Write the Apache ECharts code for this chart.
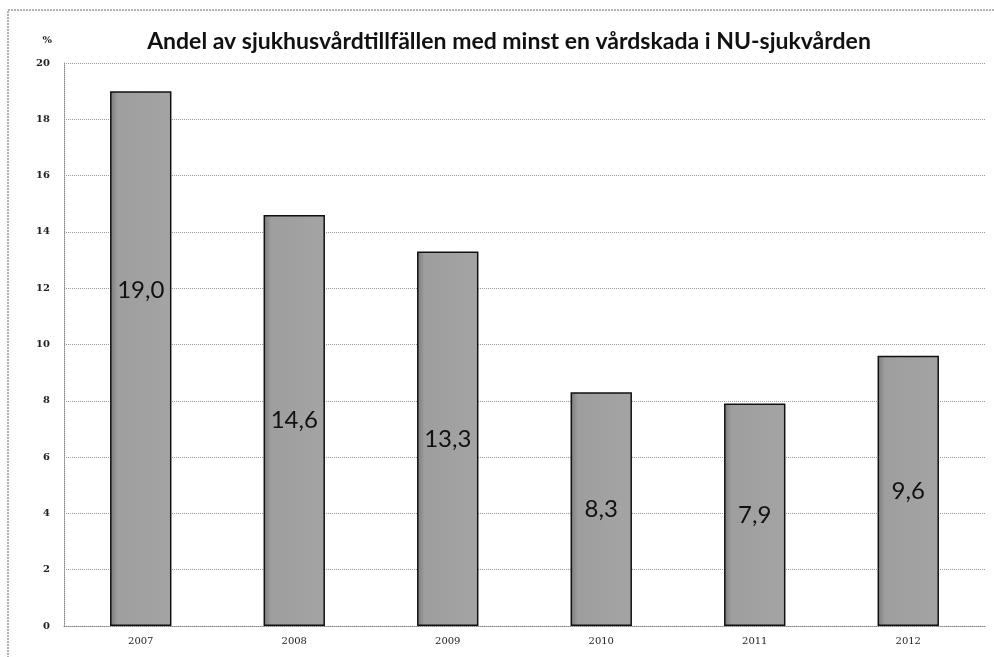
<!DOCTYPE html>
<html>
<head>
    <meta charset="utf-8">
    <title>Vårdskador NU-sjukvården</title>
    <script src="https://cdn.jsdelivr.net/npm/echarts@6/dist/echarts.min.js"></script>
    <style>
        body { margin: 0; background: #fff; }
    </style>
</head>
<body>
    <div id="main" style="width: 994px;height:657px;"></div>
    <script type="text/javascript">
        var myChart = echarts.init(document.getElementById('main'));

        // data
        var years = ['2007', '2008', '2009', '2010', '2011', '2012'];
        var values = [19.0, 14.6, 13.3, 8.3, 7.9, 9.6];
        var yTicks = [0, 2, 4, 6, 8, 10, 12, 14, 16, 18, 20];
        var title = 'Andel av sjukhusvårdtillfällen med minst en vårdskada i NU-sjukvården';

        var seriesData = values.map(function (v, i) {
            var d = { value: v };
            // the 2007 label sits higher up in the bar
            if (i === 0) d.label = { offset: [0, -68] };
            return d;
        });

        var option = {
            backgroundColor: '#fff',
            animation: false,
            title: {
                text: title,
                left: 504,
                top: 25,
                textAlign: 'center',
                textStyle: {
                    fontFamily: 'Lato',
                    fontWeight: 'bold',
                    fontSize: 23,
                    color: '#111'
                }
            },
            graphic: [
                {
                    type: 'rect',
                    shape: { x: 8, y: 10, width: 990, height: 660 },
                    style: { fill: 'none', stroke: '#999', lineWidth: 1.5, lineDash: [2, 1] },
                    silent: true
                }
            ],
            grid: { left: 64, right: 9, top: 63, bottom: 31 },
            xAxis: {
                type: 'category',
                data: years,
                axisLine: { lineStyle: { color: '#888', type: 'dotted' } },
                axisTick: { show: false },
                axisLabel: {
                    margin: 10,
                    fontFamily: 'DejaVu Serif',
                    fontSize: 10,
                    color: '#222'
                }
            },
            yAxis: {
                type: 'value',
                min: 0,
                max: 20,
                interval: 2,
                name: '%',
                nameLocation: 'end',
                nameGap: 18,
                nameTextStyle: {
                    fontFamily: 'DejaVu Serif',
                    fontSize: 10,
                    fontWeight: 'bold',
                    color: '#222',
                    align: 'right',
                    padding: [0, 12, 0, 0]
                },
                axisLine: { show: true, lineStyle: { color: '#888', type: 'dotted' } },
                axisTick: { show: false },
                axisLabel: {
                    margin: 14,
                    fontFamily: 'DejaVu Serif',
                    fontWeight: 'bold',
                    fontSize: 10,
                    color: '#222',
                    formatter: function (v) {
                        return yTicks.indexOf(v) >= 0 ? String(v) : '';
                    }
                },
                splitLine: { lineStyle: { color: '#999', type: 'dotted', width: 1 } }
            },
            series: [
                {
                    type: 'bar',
                    data: seriesData,
                    barWidth: '40%',
                    itemStyle: {
                        color: {
                            type: 'linear', x: 0, y: 0, x2: 1, y2: 0,
                            colorStops: [
                                { offset: 0, color: '#7a7a7a' },
                                { offset: 0.12, color: '#9e9e9e' },
                                { offset: 1, color: '#a4a4a4' }
                            ]
                        },
                        borderColor: '#111',
                        borderWidth: 1.5
                    },
                    label: {
                        show: true,
                        position: 'inside',
                        fontFamily: 'Lato',
                        fontSize: 24,
                        color: '#111',
                        formatter: function (p) {
                            return p.value.toFixed(1).replace('.', ',');
                        }
                    }
                }
            ]
        };

        myChart.setOption(option);
    </script>
</body>
</html>
